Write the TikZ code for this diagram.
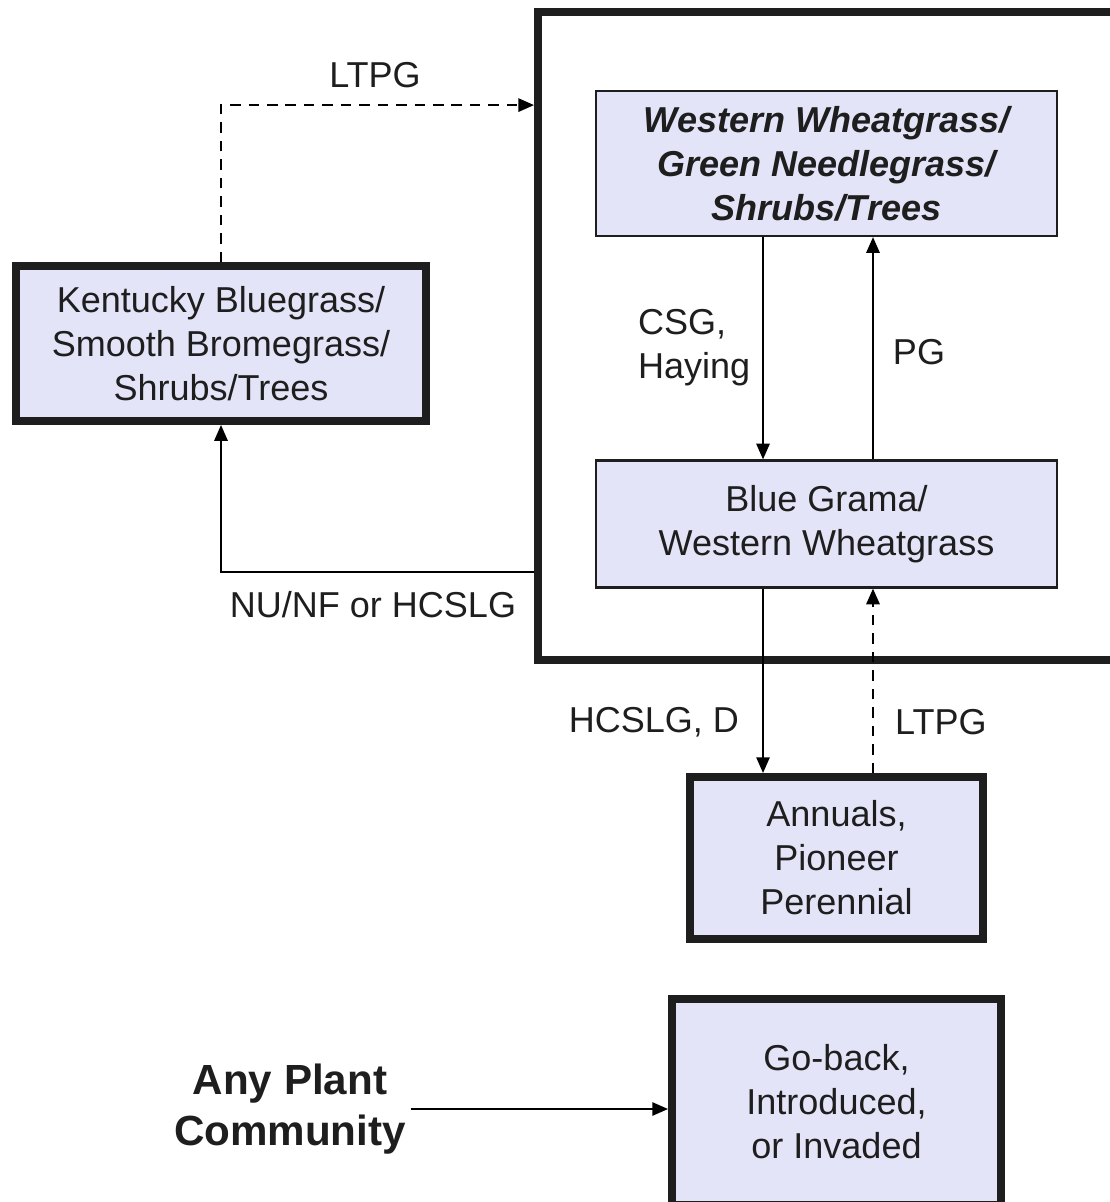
\documentclass[tikz,border=0pt]{standalone}
\usepackage{fontspec}
\setmainfont{Liberation Sans}
\usetikzlibrary{arrows.meta, positioning, calc}
\definecolor{boxfill}{HTML}{E4E4F8}
\definecolor{ink}{HTML}{1E1E1E}

\tikzset{
  state/.style={draw=ink, line width=1.2pt, fill=boxfill, text=ink, align=center, inner sep=0pt},
  thickstate/.style={state, line width=4.5pt},
  lbl/.style={text=ink, align=left, inner sep=0pt},
  ltdash/.style={line width=1.5pt, dash pattern=on 6pt off 4.5pt},
}

\begin{document}
\begin{tikzpicture}[x=0.02cm, y=-0.02cm, >={Triangle[length=9pt,width=7.5pt]}, line width=1.3pt,
    font=\fontsize{20.5}{25}\selectfont]
  \useasboundingbox (0,0) rectangle (1109,1202);

  % Reference state frame
  \node[draw=ink, line width=4.5pt, minimum width=11.56cm, minimum height=12.96cm] (core) at (827,336) {};

  % Communities
  \node[state, minimum width=9.22cm, minimum height=2.9cm,
        font=\fontsize{20.5}{25}\selectfont\bfseries\itshape] (ww) at (826.5,163.5)
        {Western Wheatgrass/\\Green Needlegrass/\\Shrubs/Trees};
  \node[state, minimum width=9.22cm, minimum height=2.54cm] (bg) at (826.5,524)
        {Blue Grama/\\Western Wheatgrass};
  \node[thickstate, minimum width=8.2cm, minimum height=3.1cm] (kbg) at (221,343.5)
        {Kentucky Bluegrass/\\Smooth Bromegrass/\\Shrubs/Trees};
  \node[thickstate, minimum width=5.86cm, minimum height=3.24cm] (ann) at (836.5,858)
        {Annuals,\\Pioneer\\Perennial};
  \node[thickstate, minimum width=6.58cm, minimum height=4.12cm] (gb) at (836.5,1102)
        {Go-back,\\Introduced,\\or Invaded};
  \node[text=ink, align=center, inner sep=2pt, font=\fontsize{24}{29.5}\selectfont\bfseries] (any) at (290,1109)
        {Any Plant\\Community};

  % Transitions
  \draw[->, ltdash] (kbg.north) |- ([yshift=-1.94cm]core.north west);
  \draw[->] ([yshift=1.84cm]core.south west) -| (kbg.south);
  \draw[->] ([xshift=-1.27cm]ww.south) -- ([xshift=-1.27cm]bg.north);
  \draw[->] ([xshift=0.93cm]bg.north) -- ([xshift=0.93cm]ww.south);
  \draw[->] ([xshift=-1.27cm]bg.south) -- ([xshift=-1.27cm]bg.south |- ann.north);
  \draw[->, ltdash] ([xshift=0.93cm]bg.south |- ann.north) -- ([xshift=0.93cm]bg.south);
  \draw[->] (any.east) -- (any.east -| gb.west);

  % Labels
  \node[lbl] (l1) at (375,75) {LTPG};
  \node[lbl, anchor=west] (l2) at (637,348) {CSG,\\Haying};
  \node[lbl] (l3) at (919,352) {PG};
  \node[lbl] (l4) at (373,605) {NU/NF or HCSLG};
  \node[lbl, anchor=east] (l5) at (740,722) {HCSLG, D};
  \node[lbl, anchor=west] (l6) at (894,722) {LTPG};
\end{tikzpicture}
\end{document}
